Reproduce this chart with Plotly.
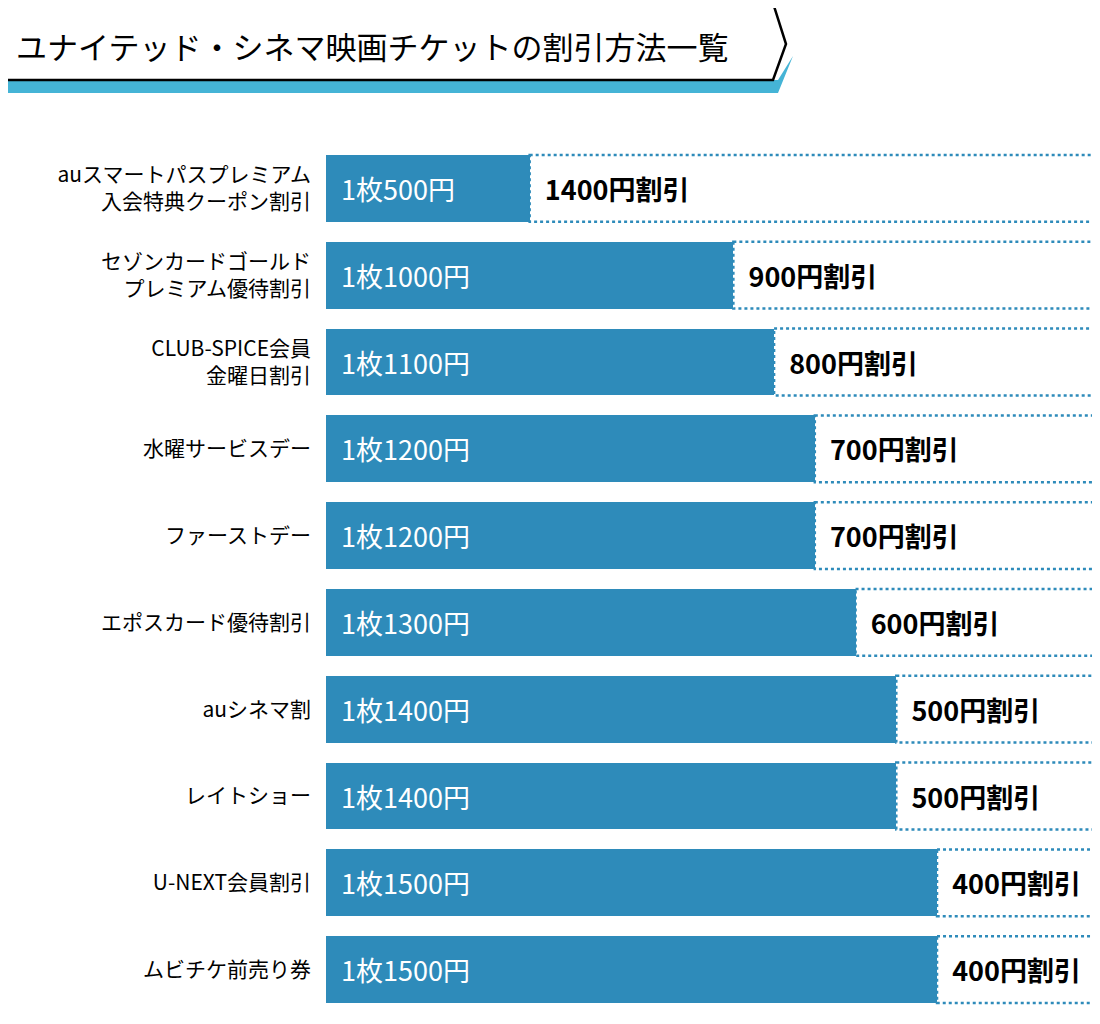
import plotly.graph_objects as go

categories = ["auスマートパスプレミアム<br>入会特典クーポン割引", "セゾンカードゴールド<br>プレミアム優待割引",
              "CLUB-SPICE会員<br>金曜日割引", "水曜サービスデー", "ファーストデー", "エポスカード優待割引",
              "auシネマ割", "レイトショー", "U-NEXT会員割引", "ムビチケ前売り券"]
prices = [500, 1000, 1100, 1200, 1200, 1300, 1400, 1400, 1500, 1500]
discounts = [1400, 900, 800, 700, 700, 600, 500, 500, 400, 400]

W, H = 1100, 1024
L, R, T, B = 318, 6, 137, 19
BLUE = "#2e8bba"
FONT = "Noto Sans CJK JP"

def px(x): return (x - L) / (W - L - R)
def py(y): return (H - B - y) / (H - T - B)

fig = go.Figure()
fig.add_bar(y=categories, x=prices, orientation="h", marker=dict(color=BLUE, line=dict(width=0)),
            text=[f"  1枚{p}円" for p in prices], textposition="inside", insidetextanchor="start",
            textfont=dict(color="white", size=27, family=FONT), hoverinfo="skip")
fig.add_bar(y=categories, x=discounts, orientation="h", marker=dict(color="white", line=dict(width=0)),
            text=[f"  <b>{d}円割引</b>" for d in discounts], textposition="inside", insidetextanchor="start",
            textfont=dict(color="black", size=27, family=FONT), hoverinfo="skip")

bw = 0.77
shapes = []
for i, (p, d) in enumerate(zip(prices, discounts)):
    shapes.append(dict(type="rect", xref="x", yref="y", x0=p, x1=p + d, y0=i - bw / 2, y1=i + bw / 2,
                       line=dict(color=BLUE, width=2.5, dash="dot"), fillcolor="rgba(0,0,0,0)"))
# title banner
shadow = f"M {px(0)},{py(72)} L {px(770)},{py(72)} L {px(785)},{py(48)} L {px(770)},{py(85)} L {px(0)},{py(85)} Z"
shapes.append(dict(type="path", xref="paper", yref="paper", path=shadow, fillcolor="#45b4d6", line=dict(width=0)))
banner = f"M {px(-5)},{py(-5)} L {px(765)},{py(-5)} L {px(778)},{py(36)} L {px(765)},{py(72)} L {px(-5)},{py(72)} Z"
shapes.append(dict(type="path", xref="paper", yref="paper", path=banner, fillcolor="white",
                   line=dict(color="black", width=2.5)))

fig.update_layout(
    width=W, height=H, margin=dict(l=L, r=R, t=T, b=B, autoexpand=False), barmode="stack", bargap=1 - bw,
    plot_bgcolor="white", paper_bgcolor="white", showlegend=False, shapes=shapes,
    uniformtext=dict(minsize=20, mode="show"),
    font=dict(family=FONT),
    xaxis=dict(visible=False, range=[0, 1905]),
    yaxis=dict(autorange="reversed", showgrid=False, ticks="", ticklabelstandoff=14, automargin=False,
               tickfont=dict(size=21, color="black", family=FONT)),
    annotations=[dict(text="ユナイテッド・シネマ映画チケットの割引方法一覧", xref="paper", yref="paper",
                      x=px(6), y=py(38), xanchor="left", yanchor="middle", showarrow=False,
                      font=dict(size=31, color="black", family=FONT))],
)
fig.write_html("out.html")
